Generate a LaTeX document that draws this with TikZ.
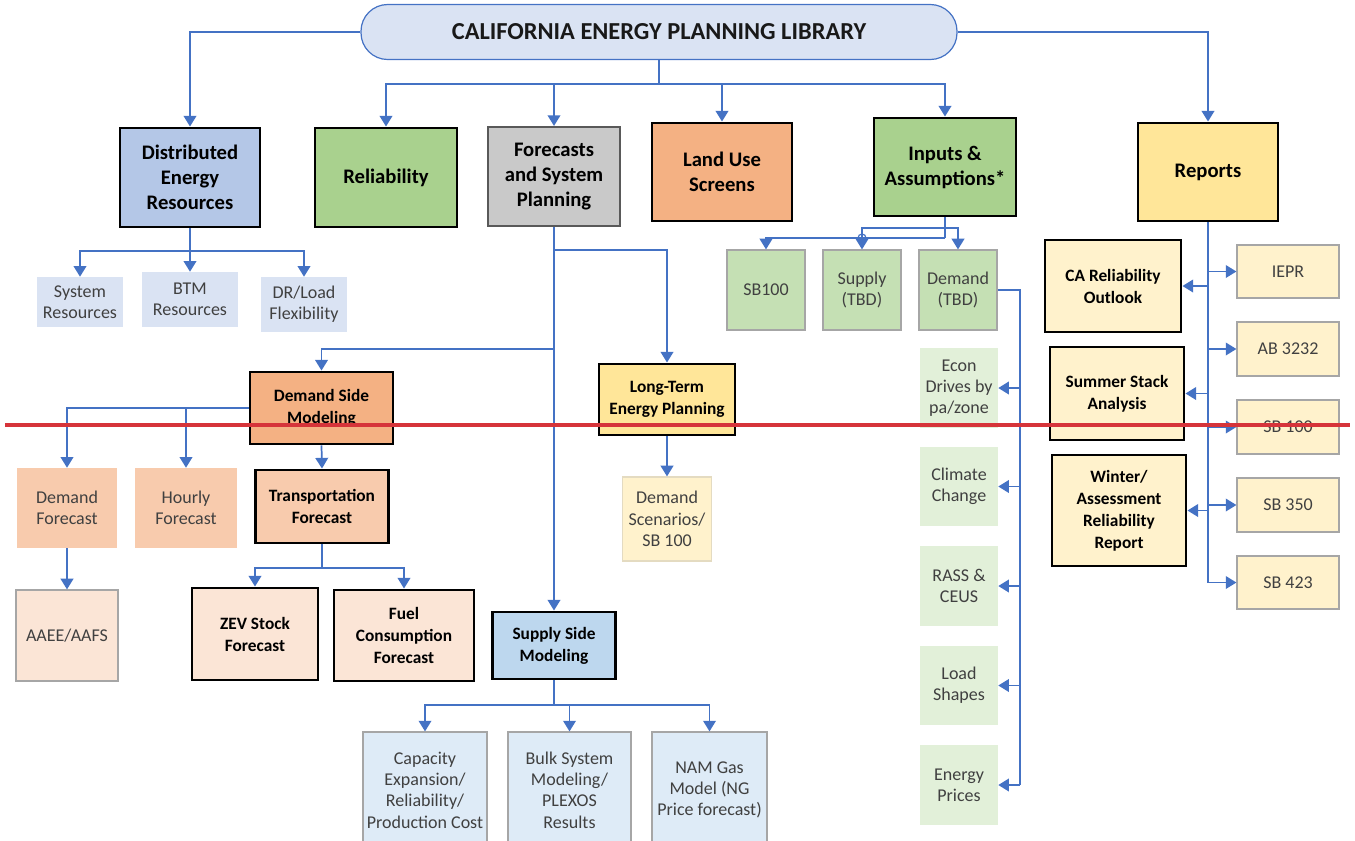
\documentclass[tikz,border=0pt]{standalone}
\usepackage{fontspec}
\setmainfont{Carlito}
\usetikzlibrary{arrows.meta}
\definecolor{lineblue}{HTML}{4472C4}
\definecolor{titlefill}{HTML}{DAE3F3}
\definecolor{derfill}{HTML}{B4C7E7}
\definecolor{greenfill}{HTML}{A9D18E}
\definecolor{grayfill}{HTML}{C9C9C9}
\definecolor{orangefill}{HTML}{F4B183}
\definecolor{yellowfill}{HTML}{FFE699}
\definecolor{peachfill}{HTML}{F8CBAD}
\definecolor{palepeach}{HTML}{FBE5D6}
\definecolor{ssmfill}{HTML}{BDD7EE}
\definecolor{paleblue}{HTML}{DEEBF7}
\definecolor{leafgreen}{HTML}{C5E0B4}
\definecolor{palegreen}{HTML}{E2F0D9}
\definecolor{cream}{HTML}{FFF2CC}
\definecolor{txtgray}{HTML}{404040}
\definecolor{edgegray}{HTML}{A6A6A6}
\definecolor{cutred}{HTML}{D6343A}

\begin{document}
\begin{tikzpicture}[x=0.75pt, y=-0.75pt,
  sz/.style 2 args={minimum width=#1*0.75pt, minimum height=#2*0.75pt},
  topbox/.style={draw=black, line width=2.2pt, align=center, inner sep=1pt, font=\bfseries\fontsize{15.5}{18.75}\selectfont},
  midbox/.style={draw=black, line width=2.2pt, align=center, inner sep=1pt, font=\bfseries\fontsize{13}{16.5}\selectfont},
  leafbox/.style={draw=edgegray, line width=0.9pt, align=center, inner sep=1pt, text=txtgray, font=\fontsize{13.5}{16}\selectfont},
  flatbox/.style={align=center, inner sep=1pt, text=txtgray, font=\fontsize{13.5}{16}\selectfont},
  wire/.style={draw=lineblue, line width=1.3pt},
  arr/.style={wire, -{Triangle[width=9.5pt,length=8pt]}}]
\useasboundingbox (0,0) rectangle (1355,840);

\node[draw=lineblue, line width=0.9pt, fill=titlefill, rounded corners=20pt, sz={596}{55}, text=black!90, font=\bfseries\fontsize{18.3}{21}\selectfont] (title) at (659,32) {CALIFORNIA ENERGY PLANNING LIBRARY};

\node[topbox, fill=derfill, sz={140}{99}] (der) at (190,177.5) {Distributed\\Energy\\Resources};
\node[topbox, fill=greenfill, sz={142}{99}] (rel) at (386,177.5) {Reliability};
\node[topbox, draw=black!65, line width=1.6pt, fill=grayfill, sz={132}{99}] (fsp) at (554,176.5) {Forecasts\\and System\\Planning};
\node[topbox, fill=orangefill, sz={140}{98}] (lus) at (722,172) {Land Use\\Screens};
\node[topbox, fill=greenfill, sz={142}{98}] (ina) at (945,167) {Inputs \&\\Assumptions*};
\node[topbox, fill=yellowfill, sz={140}{98}] (rep) at (1208,172) {Reports};

\node[flatbox, fill=titlefill, sz={86}{50}] (sysres) at (80,302) {System\\Resources};
\node[flatbox, fill=titlefill, sz={96}{55}] (btm) at (190,299.5) {BTM\\Resources};
\node[flatbox, fill=titlefill, sz={86}{55}] (drl) at (304,304.5) {DR/Load\\Flexibility};

\node[midbox, fill=orangefill, sz={143}{72}] (dsm) at (321.5,408) {Demand Side\\Modeling};
\node[flatbox, fill=peachfill, sz={100}{80}] (dfc) at (67,508) {Demand\\Forecast};
\node[flatbox, fill=peachfill, sz={102}{80}] (hfc) at (186,508) {Hourly\\Forecast};
\node[midbox, fill=peachfill, sz={133}{73}] (tfc) at (322,506.5) {Transportation\\Forecast};
\node[leafbox, fill=palepeach, sz={102}{91}] (aaee) at (67,635.5) {AAEE/AAFS};
\node[midbox, fill=palepeach, sz={126}{92}] (zev) at (255,634) {ZEV Stock\\Forecast};
\node[midbox, fill=palepeach, sz={140}{91}] (fuel) at (404,635.5) {Fuel\\Consumption\\Forecast};

\node[midbox, fill=ssmfill, sz={123}{67}] (ssm) at (554,645.5) {Supply Side\\Modeling};
\node[leafbox, fill=paleblue, sz={124}{116}] (cap) at (425,790) {Capacity\\Expansion/\\Reliability/\\Production Cost};
\node[leafbox, fill=paleblue, sz={123}{116}] (bulk) at (569.5,790) {Bulk System\\Modeling/\\PLEXOS\\Results};
\node[leafbox, fill=paleblue, sz={115}{116}] (nam) at (709.5,790) {NAM Gas\\Model (NG\\Price forecast)};

\node[midbox, fill=yellowfill, sz={136}{71}] (ltep) at (667,399.5) {Long-Term\\Energy Planning};
\node[leafbox, draw=cream!70!edgegray, fill=cream, sz={89}{84}] (dsc) at (667,519) {Demand\\Scenarios/\\SB 100};

\node[leafbox, fill=leafgreen, sz={78}{80}] (sb100) at (766,290) {SB100};
\node[leafbox, fill=leafgreen, sz={78}{80}] (sup) at (862,290) {Supply\\(TBD)};
\node[leafbox, fill=leafgreen, sz={78}{80}] (dem) at (958,290) {Demand\\(TBD)};
\node[flatbox, fill=palegreen, sz={78}{80}] (econ) at (959,388) {Econ\\Drives by\\pa/zone};
\node[flatbox, fill=palegreen, sz={78}{79}] (clim) at (959,486.5) {Climate\\Change};
\node[flatbox, fill=palegreen, sz={78}{80}] (rass) at (959,586) {RASS \&\\CEUS};
\node[flatbox, fill=palegreen, sz={78}{79}] (load) at (959,685.5) {Load\\Shapes};
\node[flatbox, fill=palegreen, sz={78}{80}] (ener) at (959,785) {Energy\\Prices};

\node[midbox, fill=cream, sz={136}{92}] (caro) at (1113,286) {CA Reliability\\Outlook};
\node[midbox, fill=cream, sz={134}{93}] (ssa) at (1117,393.5) {Summer Stack\\Analysis};
\node[midbox, fill=cream, sz={134}{111}] (win) at (1119,510.5) {Winter/\\Assessment\\Reliability\\Report};
\node[leafbox, fill=cream, sz={102}{53}] (iepr) at (1288,271.5) {IEPR};
\node[leafbox, fill=cream, sz={102}{54}] (ab) at (1288,349) {AB 3232};
\node[leafbox, fill=cream, sz={102}{54}] (sbh) at (1288,427) {SB 100};
\node[leafbox, fill=cream, sz={102}{54}] (sbt) at (1288,505) {SB 350};
\node[leafbox, fill=cream, sz={102}{53}] (sbf) at (1288,582.5) {SB 423};

\coordinate (tj) at (659,84);
\coordinate (derj) at (190,251);
\coordinate (fspa) at (554,250);
\coordinate (fspb) at (554,349);
\coordinate (dsmj) at (186,408);
\coordinate (tfcj) at (322,568);
\coordinate (ssmj) at (554,705);
\coordinate (inaa) at (945,238);
\coordinate (inab) at (945,228);
\coordinate (hop) at (862,238);
\coordinate (demj) at (1020,290);

\draw[arr] (title.west) -| (der.north);
\draw[arr] (title.east) -| (rep.north);
\draw[wire] (title.south) -- (tj);
\draw[arr] (tj) -| (rel.north);
\draw[arr] (tj) -| (fsp.north);
\draw[arr] (tj) -| (lus.north);
\draw[arr] (tj) -| (ina.north);

\draw[wire] (der.south) -- (derj);
\draw[arr] (derj) -| (sysres.north);
\draw[arr] (derj) -- (btm.north);
\draw[arr] (derj) -| (drl.north);

\draw[arr] (fsp.south) -- (ssm.north);
\draw[arr] (fspa) -| (ltep.north);
\draw[arr] (fspb) -| (dsm.north);

\draw[arr] (dsm.west) -| (dfc.north);
\draw[arr] (dsmj) -- (hfc.north);
\draw[arr] (dsm.south) -- (tfc.north);
\draw[arr] (dfc.south) -- (aaee.north);
\draw[wire] (tfc.south) -- (tfcj);
\draw[arr] (tfcj) -| (zev.north);
\draw[arr] (tfcj) -| (fuel.north);

\draw[wire] (ssm.south) -- (ssmj);
\draw[arr] (ssmj) -| (cap.north);
\draw[arr] (ssmj) -| (bulk.north);
\draw[arr] (ssmj) -| (nam.north);

\draw[arr] (ltep.south) -- (dsc.north);

\draw[wire] (ina.south) -- (inaa);
\draw[arr] (inaa) -| (sb100.north);
\draw[arr] (inab) -| (sup.north);
\draw[arr] (inab) -| (dem.north);
\draw[wire, line width=0.9pt] (hop) circle (4);

\draw[wire] (dem.east) -| (demj |- ener);
\draw[arr] (demj |- econ) -- (econ.east);
\draw[arr] (demj |- clim) -- (clim.east);
\draw[arr] (demj |- rass) -- (rass.east);
\draw[arr] (demj |- load) -- (load.east);
\draw[arr] (demj |- ener) -- (ener.east);

\draw[wire] (rep.south) -- (rep.south |- sbf);
\draw[arr] (rep.south |- caro) -- (caro.east);
\draw[arr] (rep.south |- ssa) -- (ssa.east);
\draw[arr] (rep.south |- win) -- (win.east);
\draw[arr] (rep.south |- iepr) -- (iepr.west);
\draw[arr] (rep.south |- ab) -- (ab.west);
\draw[arr] (rep.south |- sbh) -- (sbh.west);
\draw[arr] (rep.south |- sbt) -- (sbt.west);
\draw[arr] (rep.south |- sbf) -- (sbf.west);

\draw[cutred, line width=3pt] (5,425) -- (1350,425);
\end{tikzpicture}
\end{document}
